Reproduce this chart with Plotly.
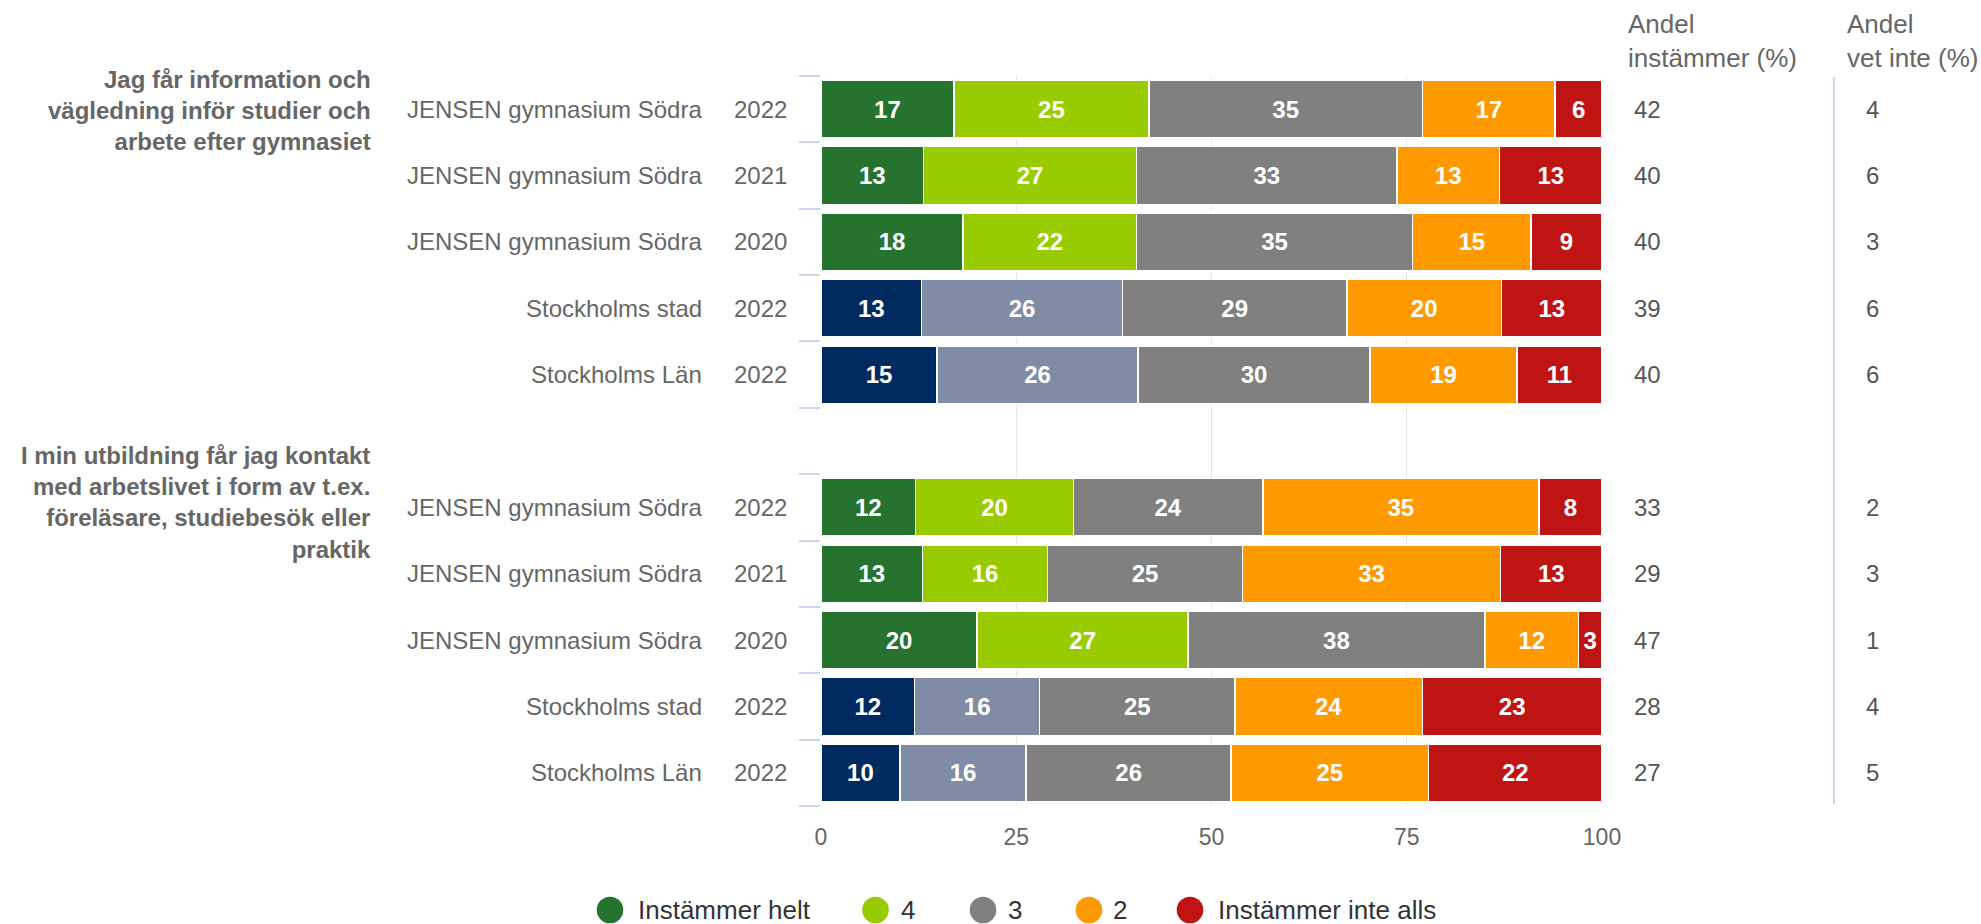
import plotly.graph_objects as go

# ---------------- data ----------------
group_labels = [
    "Jag får information och<br>vägledning inför studier och<br>arbete efter gymnasiet",
    "I min utbildning får jag kontakt<br>med arbetslivet i form av t.ex.<br>föreläsare, studiebesök eller<br>praktik",
]
units = ["JENSEN gymnasium Södra", "JENSEN gymnasium Södra", "JENSEN gymnasium Södra",
         "Stockholms stad", "Stockholms Län",
         "JENSEN gymnasium Södra", "JENSEN gymnasium Södra", "JENSEN gymnasium Södra",
         "Stockholms stad", "Stockholms Län"]
years = ["2022", "2021", "2020", "2022", "2022",
         "2022", "2021", "2020", "2022", "2022"]
row_pos = [0, 1, 2, 3, 4, 6, 7, 8, 9, 10]
group_rows = [0, 6]

series_names = ["Instämmer helt", "4", "3", "2", "Instämmer inte alls"]
helt = [17, 13, 18, 13, 15, 12, 13, 20, 12, 10]
fyra = [25, 27, 22, 26, 26, 20, 16, 27, 16, 16]
tre = [35, 33, 35, 29, 30, 24, 25, 38, 25, 26]
tva = [17, 13, 15, 20, 19, 35, 33, 12, 24, 25]
inte_alls = [6, 13, 9, 13, 11, 8, 13, 3, 23, 22]
andel_instammer = [42, 40, 40, 39, 40, 33, 29, 47, 28, 27]
andel_vet_inte = [4, 6, 3, 6, 6, 2, 3, 1, 4, 5]
is_comparison = [False, False, False, True, True, False, False, False, True, True]

x_ticks = [0, 25, 50, 75, 100]

# ---------------- styles ----------------
W, H = 1981, 924
FONT = "Liberation Sans, Arial, Helvetica, sans-serif"
series_colors = ["#26732f", "#99cc00", "#808080", "#ff9900", "#be1414"]
comparison_colors = {0: "#012a60", 1: "#808ba6"}

def px_x(p):
    return p / W

def px_y(p):
    return 1 - p / H

fig = go.Figure()
all_series = [helt, fyra, tre, tva, inte_alls]
for i, (name, vals) in enumerate(zip(series_names, all_series)):
    colors = [comparison_colors[i] if (cmp and i in comparison_colors) else series_colors[i]
              for cmp in is_comparison]
    fig.add_trace(go.Bar(
        name=name, y=row_pos, x=vals, orientation="h",
        marker=dict(color=colors, line=dict(color="white", width=1.5)),
        text=[str(v) for v in vals], texttemplate="%{text}",
        textposition="inside", insidetextanchor="middle", textangle=0,
        textfont=dict(color="white", size=24, family=FONT, weight="bold"),
        showlegend=False, hoverinfo="skip",
    ))

x0p, x1p = 821, 1602
y0p, y1p = 76, 806

fig.update_layout(
    width=W, height=H, autosize=False,
    margin=dict(l=0, r=0, t=0, b=0, autoexpand=False),
    paper_bgcolor="white", plot_bgcolor="white",
    barmode="stack", barnorm="percent", bargap=0.13,
    uniformtext=dict(minsize=24, mode="show"),
    font=dict(family=FONT, color="#666666", size=24),
    showlegend=False,
    xaxis=dict(domain=[px_x(x0p), px_x(x1p)], range=[0, 100], tickvals=x_ticks,
               ticktext=[str(t) for t in x_ticks],
               showgrid=True, gridcolor="#e6e6e6", gridwidth=1,
               zeroline=False, showline=False, ticks="", automargin=False,
               tickfont=dict(size=23, color="#666666", family=FONT),
               ticklabelstandoff=15, fixedrange=True),
    yaxis=dict(domain=[px_y(y1p), px_y(y0p)], range=[10.5, -0.5],
               tickvals=[v - 0.5 for v in range(12)], showticklabels=False,
               ticks="outside", ticklen=21, tickcolor="#ccd6eb", tickwidth=1.5,
               automargin=False,
               showgrid=False, zeroline=False, showline=False, fixedrange=True),
)

ann = []
for r, u, yr, a1, a2 in zip(row_pos, units, years, andel_instammer, andel_vet_inte):
    ann.append(dict(x=px_x(704), y=r, xref="paper", yref="y", text=u, showarrow=False,
                    xanchor="right", yanchor="middle", font=dict(size=24, color="#666666")))
    ann.append(dict(x=px_x(732), y=r, xref="paper", yref="y", text=yr, showarrow=False,
                    xanchor="left", yanchor="middle", font=dict(size=24, color="#666666")))
    ann.append(dict(x=px_x(1632), y=r, xref="paper", yref="y", text=str(a1), showarrow=False,
                    xanchor="left", yanchor="middle", font=dict(size=24, color="#555555")))
    ann.append(dict(x=px_x(1864), y=r, xref="paper", yref="y", text=str(a2), showarrow=False,
                    xanchor="left", yanchor="middle", font=dict(size=24, color="#555555")))

for g, r, shift in zip(group_labels, group_rows, [-1, 5]):
    ann.append(dict(x=px_x(373), y=r, xref="paper", yref="y", text="<b>" + g + "</b>",
                    showarrow=False, xanchor="right", yanchor="middle", align="right",
                    yshift=shift, font=dict(size=24, color="#666666")))

ann.append(dict(x=px_x(1626), y=px_y(41), xref="paper", yref="paper",
                text="Andel<br>instämmer (%)", showarrow=False, xanchor="left",
                yanchor="middle", align="left", font=dict(size=26, color="#666666")))
ann.append(dict(x=px_x(1845), y=px_y(41), xref="paper", yref="paper",
                text="Andel<br>vet inte (%)", showarrow=False, xanchor="left",
                yanchor="middle", align="left", font=dict(size=26, color="#666666")))

# manual legend (circle symbols)
leg_circle_x = [610, 875.5, 983, 1089, 1190]
leg_text_x = [636, 899, 1006, 1111, 1216]
leg_y = 910
rad = 13.3
shapes = []
for cx, tx, name, col in zip(leg_circle_x, leg_text_x, series_names, series_colors):
    shapes.append(dict(type="circle", xref="paper", yref="paper",
                       x0=px_x(cx - rad), x1=px_x(cx + rad),
                       y0=px_y(leg_y + rad), y1=px_y(leg_y - rad),
                       fillcolor=col, line=dict(width=0)))
    ann.append(dict(x=px_x(tx), y=px_y(leg_y), xref="paper", yref="paper", text=name,
                    showarrow=False, xanchor="left", yanchor="middle",
                    font=dict(size=26, color="#333333")))

shapes.append(dict(type="line", xref="paper", yref="paper",
                   x0=px_x(1834), x1=px_x(1834), y0=px_y(804), y1=px_y(77),
                   line=dict(color="#ccd6eb", width=2)))

fig.update_layout(annotations=ann, shapes=shapes)
fig.write_html(
    "out.html",
    config={"displayModeBar": False, "responsive": False},
    post_script="document.body.style.margin='0px';document.body.style.overflow='hidden';",
)
